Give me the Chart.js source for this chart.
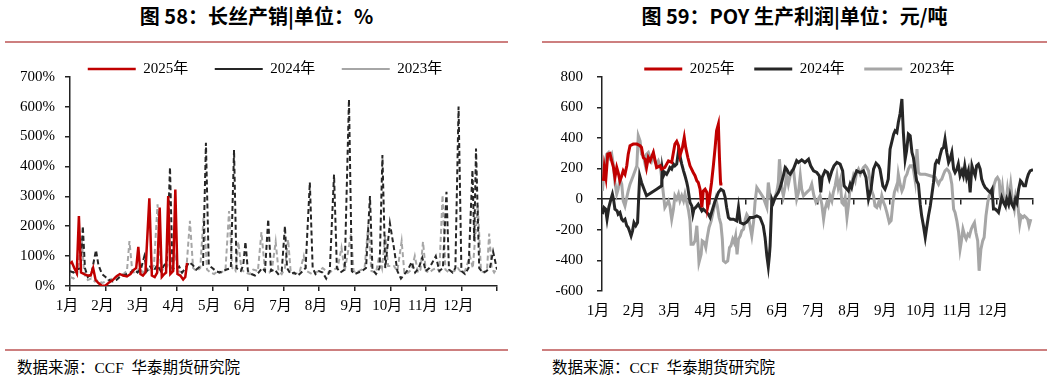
<!DOCTYPE html>
<html><head><meta charset="utf-8">
<script src="https://cdn.jsdelivr.net/npm/chart.js@4.4.1/dist/chart.umd.min.js"></script>
<style>
html,body{margin:0;padding:0;background:#fff;}
body{width:1057px;height:379px;position:relative;overflow:hidden;}
.title{position:absolute;top:5px;height:22px;line-height:22px;text-align:center;font-family:"Noto Sans CJK SC",sans-serif;font-weight:bold;font-size:20px;color:#000;white-space:nowrap;}
.rule{position:absolute;height:2px;background:#cd7f7f;}
.src{position:absolute;top:359px;font-family:"Liberation Serif","Noto Sans CJK SC",serif;font-size:15.5px;color:#000;white-space:pre;line-height:18px;}
.wrap{position:absolute;}
</style></head><body>
<div class="title" style="left:5px;width:503px;">图 58：长丝产销|单位：%</div>
<div class="rule" style="left:5px;width:503px;top:41px;"></div>
<div class="rule" style="left:5px;width:503px;top:349px;"></div>
<div class="src" style="left:17px;">数据来源：CCF  华泰期货研究院</div>

<div class="title" style="left:542px;width:505px;">图 59：POY 生产利润|单位：元/吨</div>
<div class="rule" style="left:542px;width:505px;top:41px;"></div>
<div class="rule" style="left:542px;width:505px;top:349px;"></div>
<div class="src" style="left:552px;">数据来源：CCF  华泰期货研究院</div>

<div class="wrap" style="left:0;top:35px;width:530px;height:281px;"><canvas id="c1" width="530" height="281"></canvas></div>
<div class="wrap" style="left:530px;top:42px;width:527px;height:279px;"><canvas id="c2" width="527" height="279"></canvas></div>

<script>
// ---- categories / tick labels ----
const monthLabels = ['1月','2月','3月','4月','5月','6月','7月','8月','9月','10月','11月','12月'];
const seriesNames = ['2025年','2024年','2023年'];
const salesTicks = [0,100,200,300,400,500,600,700];
const profitTicks = [-600,-400,-200,0,200,400,600,800];

// ---- 长丝产销 (%) : [month position, value] ----
const sales2025 = [[0,75],[0.05,80],[0.12,60],[0.19,43],[0.25,234],[0.31,45],[0.4,40],[0.5,35],[0.58,35],[0.65,60],[0.72,20],[0.8,10],[0.9,0],[1.0,2],[1.1,12],[1.2,20],[1.31,33],[1.4,40],[1.5,35],[1.6,32],[1.7,40],[1.8,55],[1.86,60],[1.92,131],[1.98,40],[2.05,35],[2.12,45],[2.23,293],[2.3,35],[2.38,30],[2.45,45],[2.52,262],[2.58,30],[2.65,40],[2.7,45],[2.76,301],[2.82,40],[2.9,50],[2.96,323],[3.02,40],[3.1,35],[3.18,22],[3.24,30],[3.29,77]];
const sales2024 = [[0,50],[0.1,45],[0.2,55],[0.3,60],[0.36,200],[0.42,60],[0.5,30],[0.6,40],[0.73,120],[0.8,70],[0.9,40],[1.0,30],[1.1,20],[1.2,15],[1.3,20],[1.4,30],[1.5,35],[1.6,40],[1.7,45],[1.8,55],[1.9,45],[2.0,60],[2.09,100],[2.16,50],[2.25,65],[2.35,50],[2.45,70],[2.55,50],[2.65,70],[2.72,80],[2.81,397],[2.88,60],[2.97,55],[3.07,65],[3.15,45],[3.25,60],[3.35,80],[3.45,70],[3.55,55],[3.65,65],[3.74,70],[3.82,479],[3.9,70],[4.0,60],[4.1,50],[4.2,45],[4.3,50],[4.4,55],[4.52,60],[4.61,455],[4.68,60],[4.8,50],[4.87,70],[4.93,148],[5.0,50],[5.1,40],[5.2,35],[5.3,45],[5.4,60],[5.48,50],[5.57,223],[5.65,50],[5.75,55],[5.85,40],[5.95,50],[6.04,200],[6.1,60],[6.2,40],[6.3,45],[6.4,35],[6.5,45],[6.62,60],[6.74,347],[6.82,60],[6.9,40],[7.0,50],[7.1,45],[7.2,25],[7.3,50],[7.42,373],[7.5,60],[7.6,45],[7.72,55],[7.84,624],[7.92,50],[8.0,40],[8.1,45],[8.2,50],[8.32,60],[8.43,301],[8.5,55],[8.6,40],[8.7,60],[8.78,438],[8.86,60],[8.99,210],[9.1,130],[9.2,50],[9.3,25],[9.4,40],[9.5,55],[9.6,80],[9.7,45],[9.8,60],[9.9,95],[10.0,50],[10.1,60],[10.28,100],[10.38,50],[10.48,60],[10.58,315],[10.65,55],[10.75,45],[10.83,60],[10.92,600],[11.0,50],[11.1,40],[11.2,60],[11.31,388],[11.36,150],[11.41,460],[11.5,60],[11.6,45],[11.7,50],[11.8,60],[11.89,115],[12.0,55]];
const sales2023 = [[0,30],[0.1,25],[0.2,35],[0.33,160],[0.4,40],[0.5,20],[0.6,25],[0.7,15],[0.8,20],[0.9,10],[1.0,15],[1.1,20],[1.2,25],[1.3,30],[1.4,35],[1.5,40],[1.6,50],[1.67,150],[1.75,50],[1.85,40],[1.95,60],[2.05,45],[2.15,60],[2.25,50],[2.36,70],[2.46,273],[2.55,60],[2.65,50],[2.75,70],[2.85,55],[2.95,100],[3.05,50],[3.15,45],[3.27,55],[3.37,218],[3.46,60],[3.56,50],[3.66,60],[3.76,243],[3.85,55],[3.95,45],[4.05,40],[4.15,50],[4.25,45],[4.37,55],[4.47,251],[4.56,60],[4.65,50],[4.73,148],[4.82,55],[4.92,45],[5.05,40],[5.15,55],[5.28,50],[5.38,180],[5.48,50],[5.6,45],[5.68,60],[5.78,148],[5.86,50],[5.95,40],[6.04,60],[6.13,155],[6.2,50],[6.3,40],[6.45,45],[6.57,100],[6.65,50],[6.8,40],[6.9,45],[7.0,50],[7.1,60],[7.2,50],[7.3,45],[7.4,55],[7.52,60],[7.63,128],[7.72,50],[7.9,175],[7.97,50],[8.05,45],[8.2,55],[8.28,60],[8.38,204],[8.47,50],[8.6,45],[8.69,100],[8.77,60],[8.86,170],[8.94,67],[9.1,67],[9.2,50],[9.32,150],[9.4,40],[9.5,45],[9.6,55],[9.69,100],[9.78,45],[9.85,55],[9.92,148],[10.0,50],[10.1,45],[10.2,55],[10.3,60],[10.38,50],[10.47,304],[10.55,55],[10.65,45],[10.8,50],[10.9,60],[11.0,45],[11.1,50],[11.24,100],[11.32,60],[11.46,271],[11.55,50],[11.65,45],[11.72,55],[11.78,175],[11.85,60],[11.92,45],[12.0,60]];

// ---- POY 生产利润 (元/吨) : [month position, value] ----
const profit2025 = [[0.04,120],[0.065,207],[0.11,142],[0.16,294],[0.22,299],[0.27,250],[0.32,207],[0.36,142],[0.41,207],[0.45,174],[0.5,120],[0.55,153],[0.59,185],[0.64,163],[0.69,218],[0.73,294],[0.78,349],[0.87,360],[0.97,360],[1.06,349],[1.1,338],[1.15,272],[1.2,261],[1.24,207],[1.29,272],[1.34,250],[1.43,305],[1.48,250],[1.52,207],[1.62,218],[1.66,196],[1.75,207],[1.8,229],[1.85,250],[1.94,240],[2.03,360],[2.08,377],[2.13,349],[2.17,283],[2.24,338],[2.29,403],[2.33,338],[2.39,272],[2.45,218],[2.54,174],[2.59,153],[2.64,120],[2.68,109],[2.73,65],[2.78,-54],[2.82,54],[2.87,65],[2.92,44],[2.94,-54],[2.98,-11],[3.05,109],[3.1,218],[3.15,338],[3.19,447],[3.24,490],[3.27,272],[3.3,109],[3.31,90]];
const profit2024 = [[0.01,-98],[0.05,-54],[0.1,-65],[0.14,-131],[0.19,-54],[0.25,0],[0.29,33],[0.32,0],[0.36,-65],[0.42,-76],[0.45,-98],[0.5,-87],[0.55,-131],[0.59,-142],[0.64,-131],[0.69,-174],[0.73,-185],[0.78,-218],[0.81,-240],[0.85,-207],[0.89,-153],[0.94,-174],[0.99,-153],[1.05,153],[1.1,109],[1.24,22],[1.38,44],[1.52,65],[1.66,87],[1.68,196],[1.71,153],[1.75,174],[1.8,163],[1.85,185],[1.89,207],[1.94,196],[1.99,229],[2.03,218],[2.08,229],[2.13,316],[2.17,283],[2.22,229],[2.27,185],[2.31,153],[2.36,109],[2.39,76],[2.45,-22],[2.5,-44],[2.53,-98],[2.56,-65],[2.61,-54],[2.68,-33],[2.73,-54],[2.78,-76],[2.82,-65],[2.87,-76],[2.96,-98],[3.01,-120],[3.05,-87],[3.15,-11],[3.24,44],[3.31,65],[3.38,54],[3.43,11],[3.47,-54],[3.52,-120],[3.57,-131],[3.66,-131],[3.75,-142],[3.8,-54],[3.85,-153],[3.94,-163],[4.03,-150],[4.12,-120],[4.21,-120],[4.31,-109],[4.4,-120],[4.49,-174],[4.54,-250],[4.59,-370],[4.63,-440],[4.66,-370],[4.68,-305],[4.73,0],[4.77,-22],[4.82,11],[4.91,44],[4.96,76],[5.0,109],[5.05,153],[5.1,207],[5.14,196],[5.19,174],[5.24,163],[5.33,196],[5.42,251],[5.47,240],[5.56,257],[5.65,240],[5.75,261],[5.81,218],[5.89,185],[5.98,174],[6.05,153],[6.09,44],[6.13,142],[6.21,185],[6.28,174],[6.33,131],[6.4,185],[6.46,218],[6.54,240],[6.63,229],[6.7,185],[6.74,87],[6.86,54],[6.91,98],[6.95,76],[7.0,131],[7.09,185],[7.19,174],[7.28,185],[7.35,142],[7.42,0],[7.49,65],[7.56,196],[7.63,235],[7.7,218],[7.74,196],[7.82,87],[7.88,65],[7.93,98],[7.97,131],[8.02,327],[8.12,425],[8.16,447],[8.21,436],[8.25,501],[8.3,560],[8.35,654],[8.39,436],[8.44,261],[8.48,316],[8.53,425],[8.58,414],[8.63,305],[8.67,272],[8.72,185],[8.76,120],[8.81,98],[8.86,-33],[8.9,-109],[8.95,-174],[9.0,-250],[9.04,-185],[9.09,-109],[9.14,-44],[9.18,22],[9.23,109],[9.28,229],[9.32,251],[9.37,240],[9.41,283],[9.46,327],[9.51,338],[9.55,392],[9.6,305],[9.65,240],[9.69,261],[9.74,305],[9.79,196],[9.83,174],[9.88,196],[9.92,229],[9.97,153],[10.02,185],[10.06,153],[10.1,218],[10.15,142],[10.2,185],[10.25,44],[10.3,218],[10.34,185],[10.39,153],[10.43,218],[10.48,229],[10.53,196],[10.57,131],[10.62,98],[10.67,76],[10.72,65],[10.76,54],[10.81,44],[10.86,65],[10.9,-65],[10.95,-65],[11.0,-76],[11.04,-87],[11.09,-33],[11.13,11],[11.18,-22],[11.23,-44],[11.27,0],[11.32,-33],[11.36,22],[11.41,-33],[11.46,-54],[11.51,0],[11.55,-22],[11.6,65],[11.65,120],[11.69,109],[11.74,87],[11.79,87],[11.83,131],[11.87,163],[11.92,185],[12.0,192]];
const profit2023 = [[0.01,54],[0.05,150],[0.09,250],[0.13,294],[0.18,305],[0.22,272],[0.27,294],[0.32,218],[0.36,109],[0.41,33],[0.45,65],[0.5,131],[0.55,98],[0.59,-11],[0.64,-44],[0.69,11],[0.73,54],[0.78,98],[0.87,153],[0.97,218],[1.01,414],[1.06,381],[1.1,294],[1.15,283],[1.2,229],[1.24,294],[1.29,305],[1.34,272],[1.38,250],[1.43,294],[1.48,240],[1.52,229],[1.57,250],[1.62,218],[1.66,142],[1.71,33],[1.75,-54],[1.8,-33],[1.85,-11],[1.89,-44],[1.94,-131],[1.99,-65],[2.03,22],[2.08,0],[2.13,33],[2.17,-11],[2.22,22],[2.27,-11],[2.31,33],[2.36,-22],[2.41,-76],[2.45,-142],[2.48,-294],[2.54,-294],[2.59,-272],[2.64,-174],[2.67,-283],[2.7,-414],[2.76,-360],[2.79,-272],[2.85,-283],[2.89,-316],[2.93,-251],[2.98,-185],[3.04,-142],[3.08,-98],[3.13,-44],[3.17,0],[3.21,-44],[3.26,-120],[3.31,-163],[3.35,-261],[3.38,-403],[3.44,-414],[3.5,-403],[3.55,-316],[3.59,-305],[3.64,-261],[3.68,-283],[3.72,-240],[3.76,-360],[3.8,-261],[3.85,-240],[3.89,-207],[3.94,-196],[3.99,-131],[4.03,-100],[4.08,-120],[4.12,-174],[4.17,-240],[4.22,-150],[4.26,-22],[4.31,76],[4.4,44],[4.49,11],[4.54,-22],[4.59,-54],[4.63,109],[4.68,22],[4.73,-22],[4.8,0],[4.87,54],[4.91,109],[4.94,261],[4.97,174],[5.0,76],[5.05,22],[5.1,87],[5.14,163],[5.19,98],[5.24,153],[5.28,185],[5.33,196],[5.37,109],[5.42,0],[5.47,44],[5.52,153],[5.56,65],[5.61,22],[5.7,44],[5.79,65],[5.84,98],[5.9,22],[5.96,-22],[6.02,0],[6.07,22],[6.12,-33],[6.17,-131],[6.21,-65],[6.26,-22],[6.3,-44],[6.35,22],[6.4,-11],[6.44,44],[6.49,87],[6.54,153],[6.58,76],[6.63,120],[6.68,-22],[6.72,-33],[6.77,11],[6.82,-120],[6.86,-44],[6.91,76],[6.95,98],[7.0,153],[7.05,120],[7.09,174],[7.14,196],[7.19,163],[7.23,185],[7.28,207],[7.33,218],[7.37,207],[7.42,185],[7.47,109],[7.51,54],[7.56,22],[7.6,-44],[7.65,-54],[7.7,-22],[7.74,-44],[7.79,22],[7.84,-22],[7.88,-44],[7.93,-87],[8.0,-153],[8.05,-140],[8.1,-22],[8.14,44],[8.2,87],[8.22,76],[8.25,163],[8.3,98],[8.35,54],[8.39,76],[8.44,142],[8.49,163],[8.53,196],[8.58,218],[8.63,218],[8.67,196],[8.72,120],[8.77,327],[8.81,174],[8.86,163],[9.0,163],[9.14,153],[9.28,142],[9.32,120],[9.37,98],[9.41,120],[9.46,131],[9.51,163],[9.55,185],[9.6,196],[9.65,185],[9.69,163],[9.74,98],[9.79,-65],[9.83,-87],[9.88,-142],[9.93,-218],[9.97,-327],[10.0,-283],[10.05,-196],[10.1,-240],[10.14,-261],[10.19,-229],[10.23,-240],[10.28,-196],[10.32,-174],[10.37,-153],[10.41,-218],[10.46,-272],[10.5,-468],[10.55,-327],[10.6,-272],[10.64,-250],[10.69,-109],[10.74,-22],[10.78,22],[10.83,44],[10.87,22],[10.92,98],[10.97,131],[11.01,142],[11.06,120],[11.1,-22],[11.15,76],[11.19,-11],[11.24,-44],[11.29,65],[11.33,0],[11.38,98],[11.43,-11],[11.48,-65],[11.52,22],[11.57,-22],[11.63,-163],[11.67,-109],[11.72,-120],[11.76,-109],[11.81,-120],[11.85,-131],[11.89,-174],[11.94,-131]];

// ---- styles ----
const RED = '#c00000', DARK = '#262626', GREY = '#a6a6a6';
const FONT = {family: '"Liberation Serif", "Noto Sans CJK SC", serif', size: 15};

function monthTick(v){ return (v >= 0 && v < monthLabels.length) ? monthLabels[v] : ''; }

function line(label, data, color, width, dash){
  return {label, data, borderColor: color, backgroundColor: color, borderWidth: width,
    borderDash: dash || [], pointRadius: 0, pointHoverRadius: 0, tension: 0, fill: false};
}

// centre the legend row over a chosen horizontal band of the canvas
const legendBand = {
  id: 'legendBand',
  afterLayout(chart, args, opts) {
    const lg = chart.legend;
    if (lg && opts && opts.left != null) { lg.left = opts.left; lg.right = opts.right; lg.width = opts.right - opts.left; }
  }
};

// ===== Chart 1: 长丝产销 =====
new Chart(document.getElementById('c1'), {
  type: 'line',
  plugins: [legendBand],
  data: { datasets: [
    line(seriesNames[0], sales2025, RED, 2.5),
    line(seriesNames[1], sales2024, DARK, 2, [5,3]),
    line(seriesNames[2], sales2023, GREY, 2, [5,3])
  ]},
  options: {
    responsive: false, animation: false, devicePixelRatio: 1,
    layout: {padding: {left: 0, right: 33, top: 0, bottom: 0}},
    plugins: {
      legendBand: {left: 33, right: 497},
      legend: {display: true, position: 'top', maxHeight: 41.7,
        labels: {boxWidth: 48, boxHeight: 0, padding: 26.5, color: '#000', font: FONT}},
      tooltip: {enabled: false}
    },
    scales: {
      x: {type: 'linear', min: 0, max: 12,
        afterFit: s => { s.height = 30; },
        border: {display: true, color: '#222', width: 1.5},
        grid: {display: true, drawOnChartArea: false, drawTicks: true, tickLength: 5, color: '#222', lineWidth: 1.5},
        ticks: {stepSize: 1, autoSkip: false, maxRotation: 0, padding: 6, labelOffset: -3, color: '#000', font: FONT, callback: monthTick}
      },
      y: {min: 0, max: 700,
        afterFit: s => { s.width = 70; },
        afterBuildTicks: s => { s.ticks = salesTicks.map(v => ({value: v})); },
        border: {display: true, color: '#222', width: 1.5},
        grid: {display: true, drawOnChartArea: false, drawTicks: true, tickLength: 5, color: '#222', lineWidth: 1.5},
        ticks: {padding: 10, color: '#000', font: FONT, callback: v => v + '%'}
      }
    }
  }
});

// ===== Chart 2: POY 生产利润 =====
new Chart(document.getElementById('c2'), {
  type: 'line',
  plugins: [legendBand],
  data: { datasets: [
    line(seriesNames[0], profit2025, RED, 3),
    line(seriesNames[1], profit2024, DARK, 3),
    line(seriesNames[2], profit2023, GREY, 3)
  ]},
  options: {
    responsive: false, animation: false, devicePixelRatio: 1,
    layout: {padding: {left: 0, right: 24, top: 0, bottom: 0}},
    plugins: {
      legendBand: {left: 36, right: 503},
      legend: {display: true, position: 'top', maxHeight: 34.7,
        labels: {boxWidth: 38, boxHeight: 0, padding: 19.5, color: '#000', font: FONT}},
      tooltip: {enabled: false}
    },
    scales: {
      x: {type: 'linear', min: 0, max: 12,
        afterFit: s => { s.height = 30; },
        border: {display: false},
        grid: {display: false, drawTicks: false},
        ticks: {stepSize: 1, autoSkip: false, maxRotation: 0, padding: 11, labelOffset: -4, color: '#000', font: FONT, callback: monthTick}
      },
      x2: {type: 'linear', min: 0, max: 12, position: {y: 0},
        border: {display: true, color: '#222', width: 1.5},
        grid: {display: true, drawOnChartArea: false, drawTicks: true, tickLength: 5, color: '#222', lineWidth: 1.5},
        ticks: {display: false, stepSize: 1, autoSkip: false}
      },
      y: {min: -600, max: 800,
        afterFit: s => { s.width = 72; },
        afterBuildTicks: s => { s.ticks = profitTicks.map(v => ({value: v})); },
        border: {display: true, color: '#222', width: 1.5},
        grid: {display: true, drawOnChartArea: false, drawTicks: true, tickLength: 5, color: '#222', lineWidth: 1.5},
        ticks: {padding: 14, color: '#000', font: FONT}
      }
    }
  }
});
</script>
</body></html>
